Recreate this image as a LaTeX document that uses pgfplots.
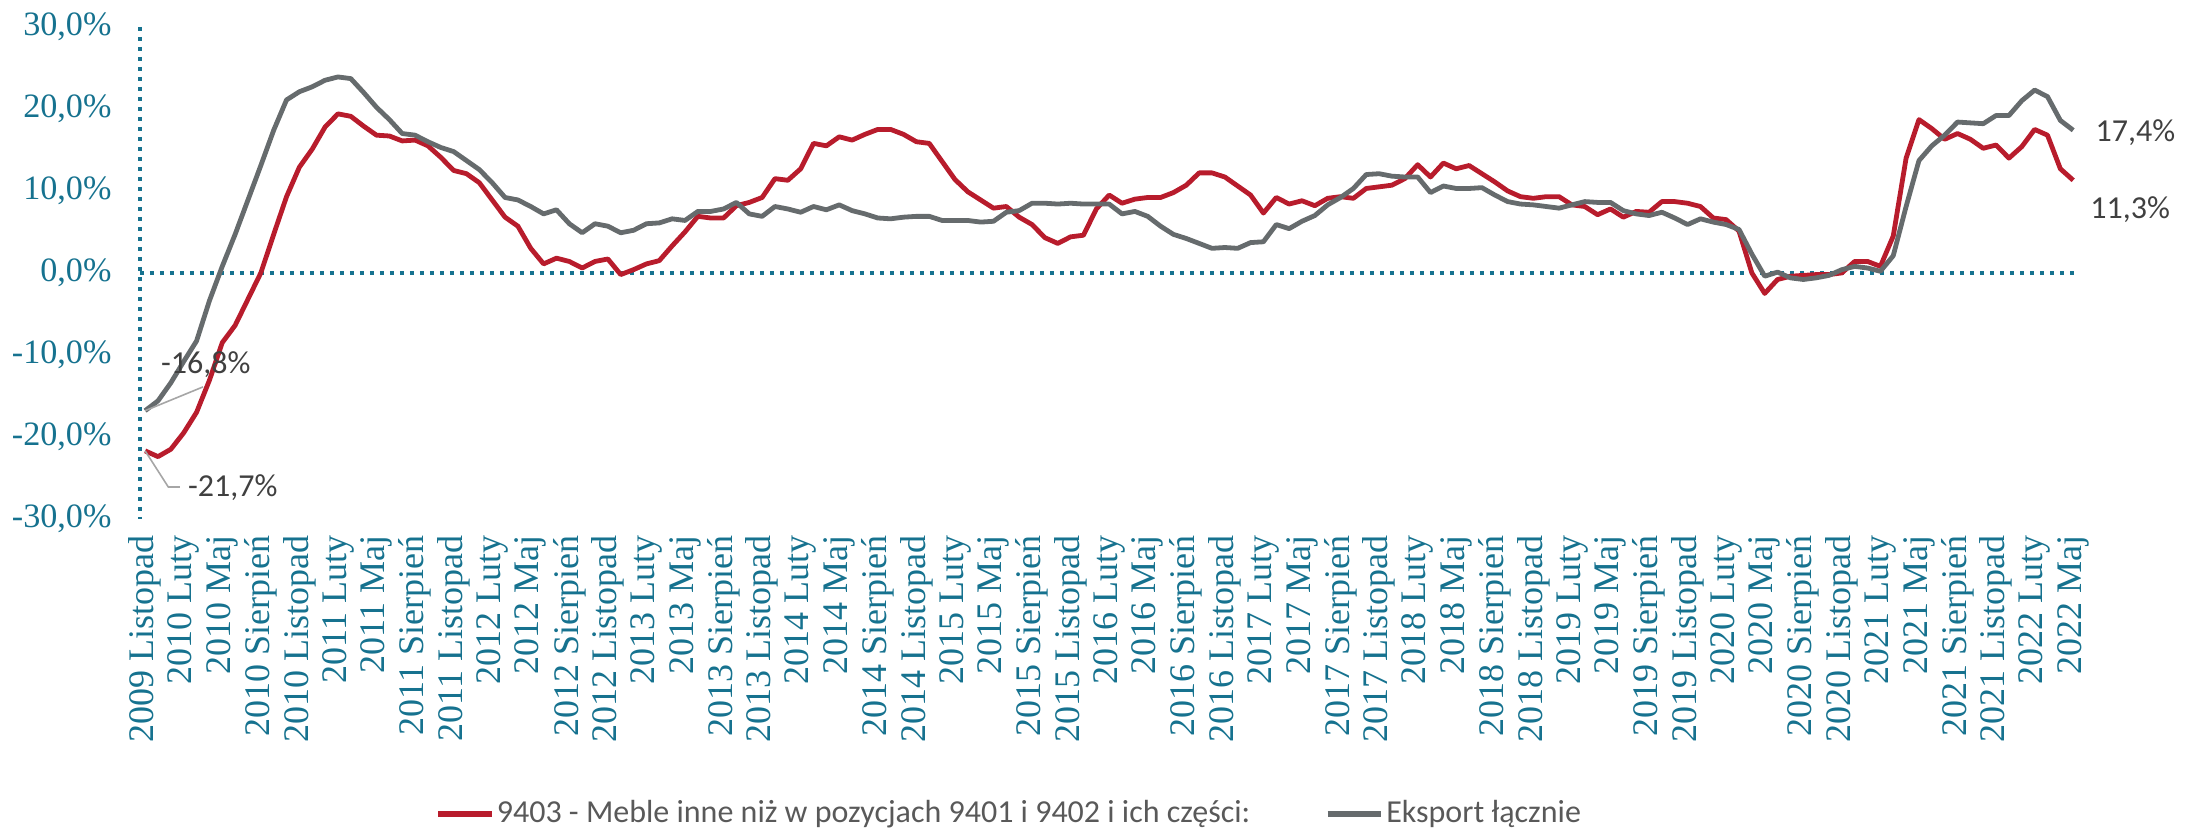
\documentclass[border=0pt]{standalone}
\usepackage{fontspec}
\setmainfont{Liberation Serif}
\newfontfamily\calib{Carlito}
\usepackage{pgfplots}
\usepackage{pgfplotstable}
\pgfplotsset{compat=1.18}

\definecolor{axteal}{HTML}{16728F}
\definecolor{mebred}{HTML}{B81C2C}
\definecolor{expgrey}{HTML}{666B6D}
\definecolor{labgrey}{HTML}{404040}
\definecolor{leggrey}{HTML}{595959}
\definecolor{leadgrey}{HTML}{A6A6A6}

% dynamika r/r, miesiace od 2009 Listopad (i=0) do 2022 Maj (i=150)
\pgfplotstableread{
i v
0 -21.7
1 -22.4
2 -21.5
3 -19.5
4 -17.0
5 -13.1
6 -8.5
7 -6.4
8 -3.2
9 0.0
10 4.7
11 9.3
12 12.9
13 15.1
14 17.8
15 19.4
16 19.1
17 17.9
18 16.8
19 16.7
20 16.1
21 16.2
22 15.5
23 14.1
24 12.5
25 12.1
26 11.0
27 8.9
28 6.8
29 5.7
30 3.0
31 1.1
32 1.8
33 1.4
34 0.6
35 1.4
36 1.7
37 -0.2
38 0.4
39 1.1
40 1.5
41 3.3
42 5.0
43 6.9
44 6.7
45 6.7
46 8.2
47 8.6
48 9.2
49 11.5
50 11.3
51 12.7
52 15.8
53 15.5
54 16.6
55 16.2
56 16.9
57 17.5
58 17.5
59 16.9
60 16.0
61 15.8
62 13.6
63 11.4
64 9.9
65 8.9
66 7.9
67 8.1
68 6.8
69 5.9
70 4.3
71 3.6
72 4.4
73 4.6
74 7.8
75 9.5
76 8.5
77 9.0
78 9.2
79 9.2
80 9.8
81 10.7
82 12.2
83 12.2
84 11.7
85 10.6
86 9.5
87 7.3
88 9.2
89 8.4
90 8.8
91 8.2
92 9.1
93 9.3
94 9.1
95 10.3
96 10.5
97 10.7
98 11.5
99 13.2
100 11.7
101 13.4
102 12.7
103 13.1
104 12.1
105 11.1
106 10.0
107 9.3
108 9.1
109 9.3
110 9.3
111 8.3
112 8.1
113 7.1
114 7.8
115 6.8
116 7.5
117 7.4
118 8.7
119 8.7
120 8.5
121 8.1
122 6.7
123 6.5
124 5.1
125 0.0
126 -2.5
127 -0.8
128 -0.4
129 -0.3
130 -0.2
131 -0.2
132 0.0
133 1.4
134 1.4
135 0.8
136 4.5
137 14.0
138 18.7
139 17.6
140 16.3
141 17.0
142 16.3
143 15.2
144 15.6
145 14.0
146 15.4
147 17.5
148 16.8
149 12.7
150 11.3
}\meble

\pgfplotstableread{
i v
0 -16.8
1 -15.6
2 -13.4
3 -10.8
4 -8.3
5 -3.4
6 0.8
7 4.7
8 8.9
9 13.1
10 17.4
11 21.1
12 22.1
13 22.7
14 23.5
15 23.9
16 23.7
17 22.0
18 20.2
19 18.7
20 17.0
21 16.8
22 16.0
23 15.3
24 14.8
25 13.7
26 12.6
27 11.0
28 9.2
29 8.9
30 8.1
31 7.2
32 7.7
33 6.0
34 4.9
35 6.0
36 5.7
37 4.9
38 5.2
39 6.0
40 6.1
41 6.6
42 6.4
43 7.5
44 7.5
45 7.8
46 8.6
47 7.2
48 6.9
49 8.1
50 7.8
51 7.4
52 8.1
53 7.7
54 8.3
55 7.6
56 7.2
57 6.7
58 6.6
59 6.8
60 6.9
61 6.9
62 6.4
63 6.4
64 6.4
65 6.2
66 6.3
67 7.4
68 7.6
69 8.5
70 8.5
71 8.4
72 8.5
73 8.4
74 8.4
75 8.4
76 7.2
77 7.5
78 6.9
79 5.7
80 4.7
81 4.2
82 3.6
83 3.0
84 3.1
85 3.0
86 3.7
87 3.8
88 5.9
89 5.4
90 6.3
91 7.0
92 8.3
93 9.2
94 10.3
95 12.0
96 12.1
97 11.8
98 11.7
99 11.7
100 9.8
101 10.6
102 10.3
103 10.3
104 10.4
105 9.5
106 8.7
107 8.4
108 8.3
109 8.1
110 7.9
111 8.3
112 8.7
113 8.6
114 8.6
115 7.6
116 7.2
117 7.0
118 7.4
119 6.7
120 5.9
121 6.6
122 6.2
123 5.9
124 5.3
125 2.3
126 -0.4
127 0.1
128 -0.6
129 -0.8
130 -0.6
131 -0.3
132 0.4
133 0.8
134 0.6
135 0.2
136 2.1
137 8.1
138 13.7
139 15.5
140 16.8
141 18.4
142 18.3
143 18.2
144 19.2
145 19.2
146 21.0
147 22.3
148 21.5
149 18.6
150 17.4
}\eksport

\begin{document}
\begin{tikzpicture}
\useasboundingbox (-52.5pt,-118.1pt) rectangle (773.25pt,194.6pt);
\begin{axis}[
  at={(0pt,0pt)}, anchor=south west,
  scale only axis,
  width=726.4pt, height=184.5pt,
  xmin=-0.4, xmax=150.3,
  ymin=-30, ymax=30,
  axis line style={draw=none},
  tick style={draw=none},
  major tick length=0pt,
  clip=false,
  xtick={0,3,...,150},
  xticklabels={2009 Listopad,
    2010 Luty,2010 Maj,2010 Sierpień,2010 Listopad,
    2011 Luty,2011 Maj,2011 Sierpień,2011 Listopad,
    2012 Luty,2012 Maj,2012 Sierpień,2012 Listopad,
    2013 Luty,2013 Maj,2013 Sierpień,2013 Listopad,
    2014 Luty,2014 Maj,2014 Sierpień,2014 Listopad,
    2015 Luty,2015 Maj,2015 Sierpień,2015 Listopad,
    2016 Luty,2016 Maj,2016 Sierpień,2016 Listopad,
    2017 Luty,2017 Maj,2017 Sierpień,2017 Listopad,
    2018 Luty,2018 Maj,2018 Sierpień,2018 Listopad,
    2019 Luty,2019 Maj,2019 Sierpień,2019 Listopad,
    2020 Luty,2020 Maj,2020 Sierpień,2020 Listopad,
    2021 Luty,2021 Maj,2021 Sierpień,2021 Listopad,
    2022 Luty,2022 Maj},
  xticklabel style={rotate=90, anchor=east, inner sep=0pt,
    font=\fontsize{13.5}{14}\selectfont, text=axteal},
  xticklabel shift=6pt,
  ytick={-30,-20,...,30},
  yticklabels={{-30,0\%},{-20,0\%},{-10,0\%},{0,0\%},{10,0\%},{20,0\%},{30,0\%}},
  yticklabel style={anchor=east, inner sep=0pt,
    font=\fontsize{12.8}{14}\selectfont, text=axteal},
  yticklabel shift=10.5pt,
  legend columns=2,
  legend style={draw=none, fill=none, inner sep=0pt,
    at={(axis description cs:0.1523,-0.5995)}, anchor=west,
    font=\calib\fontsize{12}{14}\selectfont, text=leggrey,
    nodes={inner sep=1pt},
    /tikz/every even column/.append style={column sep=27pt}},
  legend image code/.code={\draw[#1, line width=2pt] (0pt,0pt) -- (20pt,0pt);},
]
\draw[axteal, line width=1.65pt, dash pattern=on 1.65pt off 2.1pt]
  (axis cs:-0.4,30) -- (axis cs:-0.4,-30);
\draw[axteal, line width=1.65pt, dash pattern=on 1.65pt off 2.1pt]
  (axis cs:-0.4,0) -- (axis cs:150.3,0);

\addplot[mebred, line width=1.8pt, line join=round, no marks] table[x=i, y=v] {\meble};
\addlegendentry{9403 - Meble inne niż w pozycjach 9401 i 9402 i ich części:}
\addplot[expgrey, line width=1.8pt, line join=round, no marks] table[x=i, y=v] {\eksport};
\addlegendentry{Eksport łącznie}

% etykiety danych
\draw[leadgrey, line width=0.6pt] (axis cs:0,-16.8) -- (axis cs:4.5,-13.9);
\draw[leadgrey, line width=0.6pt] (axis cs:0,-21.7) -- (axis cs:1.8,-26.1) -- (axis cs:2.7,-26.1);
\node[anchor=west, inner sep=0pt, text=labgrey, font=\calib\fontsize{12}{14}\selectfont]
  at (axis cs:1.2,-11.2) {-16,8\%};
\node[anchor=west, inner sep=0pt, text=labgrey, font=\calib\fontsize{12}{14}\selectfont]
  at (axis cs:3.3,-26.2) {-21,7\%};
\node[anchor=west, inner sep=0pt, text=labgrey, font=\calib\fontsize{12}{14}\selectfont]
  at (axis cs:151.7,17.1) {17,4\%};
\node[anchor=west, inner sep=0pt, text=labgrey, font=\calib\fontsize{12}{14}\selectfont]
  at (axis cs:151.3,7.7) {11,3\%};
\end{axis}
\end{tikzpicture}
\end{document}
